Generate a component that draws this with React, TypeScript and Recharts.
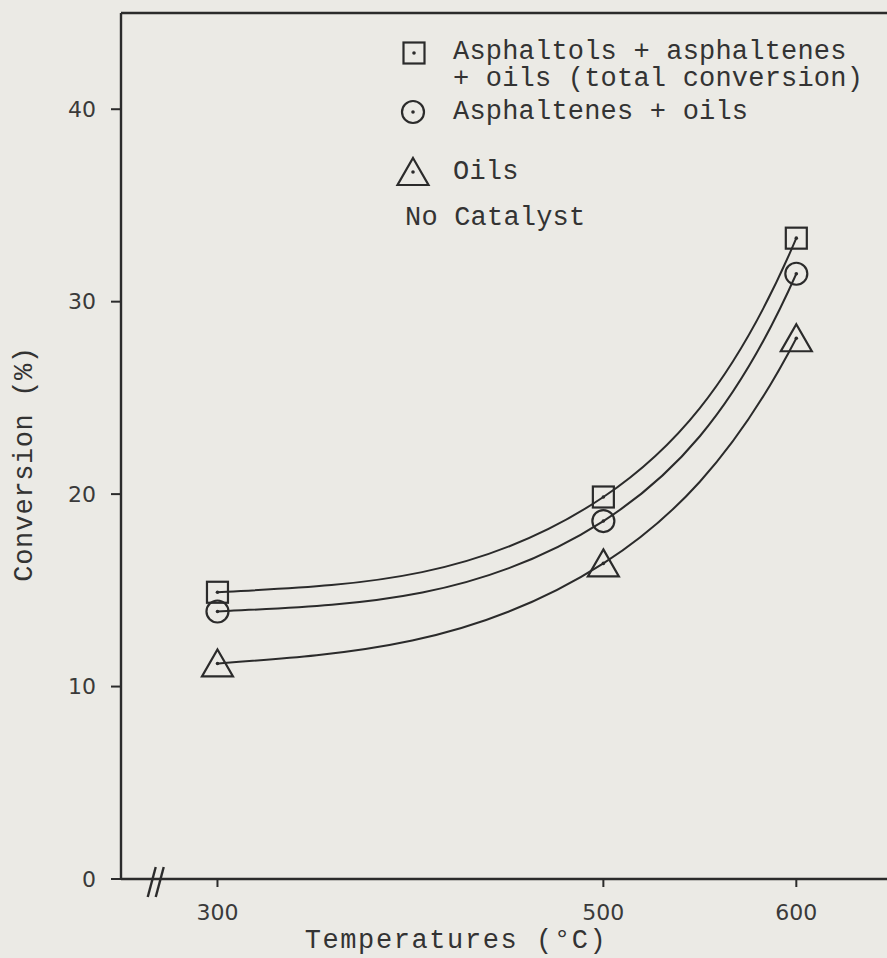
import React from "react";
import {
  Line,
  LineChart,
  ReferenceDot,
  ReferenceLine,
  XAxis,
  YAxis,
} from "recharts";

// values (no catalyst run)
const temperatures = [300, 500, 600];
const totalConversion = [14.9, 19.85, 33.3];
const asphaltenesOils = [13.9, 18.6, 31.45];
const oilsOnly = [11.2, 16.4, 28.1];

const xTicks = [300, 500, 600];
const yTicks = [0, 10, 20, 30, 40];

const legendLines = [
  "Asphaltols + asphaltenes",
  "+ oils (total conversion)",
  "Asphaltenes + oils",
  "Oils",
  "No Catalyst",
];

const data = temperatures.map((t, i) => ({
  temp: t,
  total: totalConversion[i],
  asph: asphaltenesOils[i],
  oils: oilsOnly[i],
}));

const INK = "#2b2b2b";
const PAPER = "#ebeae5";
const typeFont = "'Courier New', 'Liberation Mono', monospace";

// tangents of an exponential y = A + B*e^(kx) through three points,
// which is how the hand-drawn curves bend (flat at 300, steep at 600)
function expTangents(xs: number[], ys: number[]): number[] {
  const d1 = xs[1] - xs[0];
  const d2 = xs[2] - xs[0];
  const target = (ys[2] - ys[1]) / (ys[1] - ys[0]);
  const ratio = (k: number) => {
    if (Math.abs(k) < 1e-9) return (d2 - d1) / d1;
    return (Math.exp(k * d2) - Math.exp(k * d1)) / (Math.exp(k * d1) - 1);
  };
  let lo = -0.05;
  let hi = 0.05;
  for (let i = 0; i < 80; i++) {
    const mid = (lo + hi) / 2;
    if (ratio(mid) < target) lo = mid;
    else hi = mid;
  }
  const k = (lo + hi) / 2;
  if (Math.abs(k) < 1e-7) {
    const s = (ys[2] - ys[0]) / d2;
    return [s, s, s];
  }
  const B = (ys[1] - ys[0]) / (Math.exp(k * d1) - 1);
  return xs.map((x) => B * k * Math.exp(k * (x - xs[0])));
}

const expCurve = (context: any) => {
  let xs: number[] = [];
  let ys: number[] = [];
  return {
    areaStart() {},
    areaEnd() {},
    lineStart() {
      xs = [];
      ys = [];
    },
    point(x: number, y: number) {
      xs.push(+x);
      ys.push(+y);
    },
    lineEnd() {
      if (!xs.length) return;
      context.moveTo(xs[0], ys[0]);
      if (xs.length !== 3) {
        for (let i = 1; i < xs.length; i++) context.lineTo(xs[i], ys[i]);
        return;
      }
      const m = expTangents(xs, ys);
      for (let i = 0; i < 2; i++) {
        const h = xs[i + 1] - xs[i];
        context.bezierCurveTo(
          xs[i] + h / 3,
          ys[i] + (m[i] * h) / 3,
          xs[i + 1] - h / 3,
          ys[i + 1] - (m[i + 1] * h) / 3,
          xs[i + 1],
          ys[i + 1]
        );
      }
    },
  };
};

const SquareMark = ({ cx, cy }: any) => (
  <g>
    <rect x={cx - 10.5} y={cy - 10.5} width={21} height={21} fill="none" stroke={INK} strokeWidth={2.2} />
    <circle cx={cx} cy={cy} r={1.8} fill={INK} />
  </g>
);

const CircleMark = ({ cx, cy }: any) => (
  <g>
    <circle cx={cx} cy={cy} r={11} fill="none" stroke={INK} strokeWidth={2.2} />
    <circle cx={cx} cy={cy} r={1.8} fill={INK} />
  </g>
);

const TriangleMark = ({ cx, cy }: any) => (
  <g>
    <path
      d={`M${cx} ${cy - 14} L${cx + 15.5} ${cy + 13} L${cx - 15.5} ${cy + 13} Z`}
      fill="none"
      stroke={INK}
      strokeWidth={2.2}
    />
    <circle cx={cx} cy={cy} r={1.8} fill={INK} />
  </g>
);

// the "//" break mark on the x axis
const AxisBreak = ({ cx, cy }: any) => (
  <g stroke={INK} strokeWidth={2.4}>
    <line x1={cx - 8} y1={cy + 18} x2={cx} y2={cy - 12} />
    <line x1={cx} y1={cy + 18} x2={cx + 8} y2={cy - 12} />
  </g>
);

const tickStyle = { fontFamily: "'DejaVu Sans', sans-serif", fontSize: 22, fill: "#3a3a3a" };

const App: React.FC = () => {
  return (
    <div
      style={{
        position: "absolute",
        left: 0,
        top: 0,
        width: 887,
        height: 958,
        background: PAPER,
        overflow: "hidden",
      }}
    >
      <LineChart width={887} height={958} data={data} margin={{ top: 13, right: 0, left: 0, bottom: 0 }}>
        <XAxis
          dataKey="temp"
          type="number"
          domain={[250, 647]}
          ticks={xTicks}
          allowDataOverflow
          height={79}
          stroke={INK}
          strokeWidth={2.6}
          tickSize={8}
          tickMargin={17}
          tick={tickStyle}
          tickLine={{ stroke: INK, strokeWidth: 2 }}
          label={{
            value: "Temperatures (°C)",
            position: "insideBottom",
            offset: 10,
            dx: -48,
            style: { fontFamily: typeFont, fontSize: 27, letterSpacing: 1.6, fill: "#333" },
          }}
        />
        <YAxis
          type="number"
          domain={[0, 45]}
          ticks={yTicks}
          allowDataOverflow
          width={121}
          stroke={INK}
          strokeWidth={2.4}
          tickSize={10}
          tickMargin={15}
          tick={tickStyle}
          tickLine={{ stroke: INK, strokeWidth: 2 }}
          label={{
            value: "Conversion (%)",
            angle: -90,
            position: "insideLeft",
            offset: 22,
            dy: 18,
            style: { fontFamily: typeFont, fontSize: 27, letterSpacing: 0.6, fill: "#333", textAnchor: "middle" },
          }}
        />
        <ReferenceLine y={45} stroke={INK} strokeWidth={2.4} />
        <ReferenceDot x={268} y={0} r={0} shape={AxisBreak} />
        <Line
          type={expCurve as any}
          dataKey="total"
          stroke={INK}
          strokeWidth={2}
          dot={SquareMark}
          activeDot={false}
          isAnimationActive={false}
        />
        <Line
          type={expCurve as any}
          dataKey="asph"
          stroke={INK}
          strokeWidth={2}
          dot={CircleMark}
          activeDot={false}
          isAnimationActive={false}
        />
        <Line
          type={expCurve as any}
          dataKey="oils"
          stroke={INK}
          strokeWidth={2}
          dot={TriangleMark}
          activeDot={false}
          isAnimationActive={false}
        />
      </LineChart>

      {/* key, typed on the figure */}
      <svg
        width={887}
        height={958}
        style={{ position: "absolute", left: 0, top: 0, pointerEvents: "none" }}
      >
        <SquareMark cx={414} cy={53} />
        <CircleMark cx={413} cy={112} />
        <TriangleMark cx={413} cy={172} />
        <g fontFamily={typeFont} fontSize={27} fill="#333" dominantBaseline="central" style={{ letterSpacing: 0.2 }}>
          <text x={453} y={52}>{legendLines[0]}</text>
          <text x={453} y={79}>{legendLines[1]}</text>
          <text x={453} y={112}>{legendLines[2]}</text>
          <text x={453} y={172}>{legendLines[3]}</text>
          <text x={405} y={218}>{legendLines[4]}</text>
        </g>
      </svg>
    </div>
  );
};

export default App;
